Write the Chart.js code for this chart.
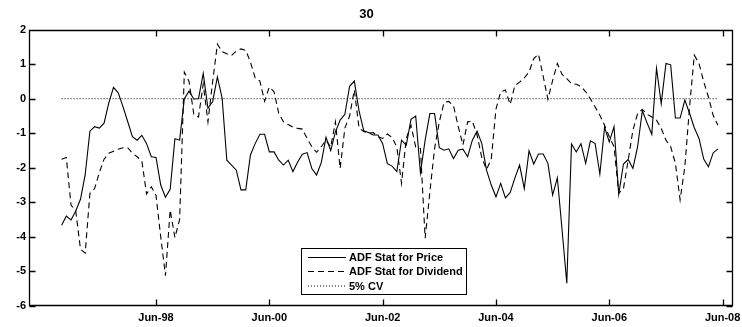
<!DOCTYPE html>
<html>
<head>
<meta charset="utf-8">
<title>30</title>
<script src="https://cdn.jsdelivr.net/npm/chart.js@4.4.1/dist/chart.umd.min.js"></script>
<style>
  html, body { margin: 0; padding: 0; background: #fff; }
  canvas { display: block; }
</style>
</head>
<body>
<canvas id="chart" width="742" height="327"></canvas>
<script>
// ---- data (monthly ADF statistics) ----
const firstMonth = '1996-10';

const priceStat = [
  -3.66, -3.40, -3.51, -3.25, -2.91, -2.20, -0.94, -0.81, -0.85, -0.71,
  -0.12, 0.33, 0.17, -0.23, -0.66, -1.10, -1.20, -1.06, -1.30, -1.68,
  -1.70, -2.50, -2.85, -2.62, -1.16, -1.20, 0.00, 0.22, -0.01, 0.00,
  0.73, -0.28, -0.08, 0.63, 0.02, -1.78, -1.92, -2.07, -2.64, -2.64,
  -1.63, -1.30, -1.03, -1.03, -1.54, -1.54, -1.78, -1.92, -1.78, -2.11,
  -1.83, -1.61, -1.56, -2.02, -2.21, -1.85, -1.12, -1.50, -0.96, -0.62,
  -0.45, 0.36, 0.51, -0.35, -0.93, -0.98, -1.05, -1.05, -1.30, -1.88,
  -1.95, -2.11, -1.20, -1.35, -0.60, -0.50, -2.15, -1.20, -0.43, -0.43,
  -1.42, -1.49, -1.45, -1.73, -1.49, -1.46, -1.68, -1.20, -0.94, -1.30,
  -2.07, -2.50, -2.84, -2.45, -2.87, -2.72, -2.30, -1.92, -2.60, -1.51,
  -1.89, -1.60, -1.60, -1.87, -2.79, -2.29, -3.80, -5.34, -1.31, -1.54,
  -1.30, -1.87, -1.22, -1.30, -2.18, -0.83, -1.25, -0.81, -2.76, -1.89,
  -1.76, -2.02, -1.39, -0.35, -0.70, -1.03, 0.88, -0.14, 1.02, 0.98,
  -0.56, -0.56, -0.04, -0.42, -0.84, -1.15, -1.75, -1.97, -1.57, -1.45
];

const dividendStat = [
  -1.75, -1.70, -3.08, -3.25, -4.35, -4.47, -2.74, -2.60, -2.14, -1.75,
  -1.58, -1.52, -1.46, -1.42, -1.42, -1.58, -1.68, -1.80, -2.76, -2.55,
  -2.80, -4.00, -5.12, -3.22, -4.02, -3.50, 0.77, 0.50, -0.45, -0.53,
  0.42, -0.67, 0.50, 1.58, 1.36, 1.30, 1.25, 1.38, 1.44, 1.40,
  1.06, 0.60, 0.51, -0.07, 0.34, 0.20, -0.43, -0.67, -0.75, -0.82,
  -0.86, -0.88, -1.15, -1.39, -1.55, -1.39, -1.20, -1.40, -0.67, -2.02,
  -0.85, -0.50, 0.25, -0.85, -0.95, -1.00, -0.98, -1.10, -1.15, -1.02,
  -1.12, -1.40, -2.45, -1.15, -0.77, -1.40, -1.44, -4.04, -2.70, -1.44,
  -0.67, -0.11, -0.08, -0.20, -0.80, -1.34, -0.67, -0.65, -1.05, -1.71,
  -2.05, -1.75, -0.30, 0.20, 0.25, -0.17, 0.38, 0.48, 0.60, 0.77,
  1.16, 1.29, 0.65, -0.02, 0.53, 1.02, 0.70, 0.58, 0.44, 0.42,
  0.36, 0.20, 0.00, -0.24, -0.48, -0.77, -1.10, -1.39, -2.74, -2.60,
  -1.78, -0.91, -0.43, -0.31, -0.45, -0.53, -0.62, -0.86, -1.20, -1.39,
  -1.87, -2.93, -1.97, -0.24, 1.26, 1.02, 0.49, 0.05, -0.48, -0.77
];

const cvLevel = 0;   // 5% critical value line

const xTickMonths = ['1998-06', '2000-06', '2002-06', '2004-06', '2006-06', '2008-06'];
const xTickLabels = ['Jun-98', 'Jun-00', 'Jun-02', 'Jun-04', 'Jun-06', 'Jun-08'];
const yTickValues = [-6, -5, -4, -3, -2, -1, 0, 1, 2];

const seriesLabels = ['ADF Stat for Price', 'ADF Stat for Dividend', '5% CV'];

// ---- helpers ----
function monthIndex(s) {
  const [yr, mo] = s.split('-').map(Number);
  return (yr - 1996) * 12 + (mo - 1);
}

const start = monthIndex(firstMonth);
const toPoints = arr => arr.map((v, i) => ({ x: start + i, y: v }));
const lastX = start + priceStat.length - 1;

const FONT = 'Liberation Sans, Arial, Helvetica, sans-serif';
const TICK_LEN = 6;

// axes box, inward ticks (matlab style) and the legend inside the axes
const decorations = {
  id: 'decorations',
  afterDraw(chart) {
    const c = chart.ctx;
    const a = chart.chartArea;
    const x = chart.scales.x, y = chart.scales.y;
    const L = Math.round(a.left) + 0.5, R = Math.round(a.right) - 0.5;
    const T = Math.round(a.top) + 0.5, B = Math.round(a.bottom) - 0.5;

    c.save();
    c.strokeStyle = '#000';
    c.lineWidth = 1.3;
    c.setLineDash([]);
    c.beginPath();
    c.moveTo(L, T); c.lineTo(R, T); c.lineTo(R, B); c.lineTo(L, B); c.closePath();
    xTickMonths.forEach(m => {
      const px = Math.round(x.getPixelForValue(monthIndex(m))) + 0.5;
      c.moveTo(px, B); c.lineTo(px, B - TICK_LEN);
      c.moveTo(px, T); c.lineTo(px, T + TICK_LEN);
    });
    yTickValues.forEach(v => {
      const py = Math.round(y.getPixelForValue(v)) + 0.5;
      c.moveTo(L, py); c.lineTo(L + TICK_LEN, py);
      c.moveTo(R, py); c.lineTo(R - TICK_LEN, py);
    });
    c.stroke();

    // legend
    const bx = 301.5, by = 248.5, bw = 165, bh = 46;
    const rows = [257.5, 271.5, 286];
    c.lineWidth = 1;
    c.fillStyle = '#fff';
    c.fillRect(bx, by, bw, bh);
    c.strokeRect(bx, by, bw, bh);
    chart.data.datasets.forEach((ds, i) => {
      c.beginPath();
      c.setLineDash(ds.borderDash || []);
      c.moveTo(308, rows[i]);
      c.lineTo(346, rows[i]);
      c.stroke();
      c.setLineDash([]);
      c.fillStyle = '#000';
      c.font = 'bold 11px ' + FONT;
      c.textBaseline = 'middle';
      c.fillText(ds.label, 349, rows[i] + 0.5);
    });
    c.restore();
  }
};

new Chart(document.getElementById('chart'), {
  type: 'line',
  data: {
    datasets: [
      {
        label: seriesLabels[0],
        data: toPoints(priceStat),
        borderColor: '#000',
        borderWidth: 1.1,
        pointRadius: 0,
        tension: 0,
      },
      {
        label: seriesLabels[1],
        data: toPoints(dividendStat),
        borderColor: '#000',
        borderWidth: 1.1,
        borderDash: [6, 4],
        pointRadius: 0,
        tension: 0,
      },
      {
        label: seriesLabels[2],
        data: [{ x: start, y: cvLevel }, { x: lastX, y: cvLevel }],
        borderColor: '#000',
        borderWidth: 1,
        borderDash: [1, 2],
        pointRadius: 0,
        tension: 0,
      }
    ]
  },
  options: {
    responsive: false,
    animation: false,
    layout: { padding: { left: 0, right: 9, top: 0, bottom: 0 } },
    plugins: {
      legend: { display: false },
      tooltip: { enabled: false },
      title: {
        display: true,
        text: '30',
        color: '#000',
        font: { family: FONT, size: 13, weight: 'bold', lineHeight: 1.2 },
        padding: { top: 7, bottom: 7 }
      }
    },
    scales: {
      x: {
        type: 'linear',
        min: 2.1,
        max: 151.2,
        grid: { display: false, drawTicks: false },
        border: { display: false },
        afterBuildTicks: scale => {
          scale.ticks = xTickMonths.map(m => ({ value: monthIndex(m) }));
        },
        afterFit: scale => {
          scale.height = 21;
          scale.paddingLeft = 0;
          scale.paddingRight = 0;
        },
        ticks: {
          autoSkip: false,
          maxRotation: 0,
          padding: 5,
          color: '#000',
          font: { family: FONT, size: 11, weight: 'bold' },
          callback: (value, index) => xTickLabels[index]
        }
      },
      y: {
        min: -6,
        max: 2,
        grid: { display: false, drawTicks: false },
        border: { display: false },
        afterBuildTicks: scale => {
          scale.ticks = yTickValues.map(v => ({ value: v }));
        },
        afterFit: scale => {
          scale.width = 29;
          scale.paddingTop = 0;
          scale.paddingBottom = 0;
        },
        ticks: {
          padding: 3,
          color: '#000',
          font: { family: FONT, size: 11, weight: 'bold' },
          callback: v => String(v)
        }
      }
    }
  },
  plugins: [decorations]
});
</script>
</body>
</html>
